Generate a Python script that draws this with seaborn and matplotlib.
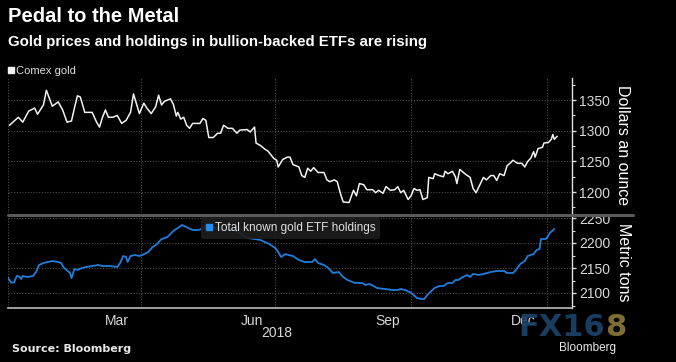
import pandas as pd
import matplotlib.pyplot as plt
import matplotlib.dates as mdates
from matplotlib.ticker import MultipleLocator
from matplotlib.lines import Line2D
import seaborn as sns

# Comex gold, dollars an ounce
gold_dates = [
    "2018-01-02", "2018-01-08", "2018-01-11", "2018-01-15", "2018-01-19", "2018-01-21",
    "2018-01-25", "2018-01-27", "2018-01-31", "2018-02-04", "2018-02-07", "2018-02-10",
    "2018-02-13", "2018-02-15", "2018-02-17", "2018-02-19", "2018-02-22", "2018-02-27",
    "2018-03-02", "2018-03-04", "2018-03-06", "2018-03-08", "2018-03-10", "2018-03-13",
    "2018-03-16", "2018-03-19", "2018-03-22", "2018-03-25", "2018-03-27", "2018-03-31",
    "2018-04-03", "2018-04-05", "2018-04-08", "2018-04-11", "2018-04-13", "2018-04-15",
    "2018-04-17", "2018-04-21", "2018-04-23", "2018-04-25", "2018-04-26", "2018-04-28",
    "2018-04-30", "2018-05-02", "2018-05-04", "2018-05-06", "2018-05-11", "2018-05-13",
    "2018-05-15", "2018-05-17", "2018-05-20", "2018-05-23", "2018-05-25", "2018-05-27",
    "2018-05-30", "2018-06-02", "2018-06-05", "2018-06-07", "2018-06-12", "2018-06-14",
    "2018-06-17", "2018-06-18", "2018-06-21", "2018-06-24", "2018-06-26", "2018-06-30",
    "2018-07-02", "2018-07-03", "2018-07-06", "2018-07-09", "2018-07-11", "2018-07-13",
    "2018-07-17", "2018-07-19", "2018-07-21", "2018-07-23", "2018-07-25", "2018-07-27",
    "2018-07-30", "2018-08-03", "2018-08-05", "2018-08-07", "2018-08-10", "2018-08-12",
    "2018-08-14", "2018-08-16", "2018-08-20", "2018-08-23", "2018-08-25", "2018-08-27",
    "2018-08-30", "2018-09-01", "2018-09-05", "2018-09-07", "2018-09-09", "2018-09-12",
    "2018-09-14", "2018-09-17", "2018-09-20", "2018-09-22", "2018-09-24", "2018-09-26",
    "2018-09-29", "2018-10-01", "2018-10-03", "2018-10-05", "2018-10-07", "2018-10-09",
    "2018-10-12", "2018-10-13", "2018-10-16", "2018-10-17", "2018-10-20", "2018-10-23",
    "2018-10-24", "2018-10-26", "2018-10-29", "2018-10-31", "2018-11-01", "2018-11-03",
    "2018-11-07", "2018-11-10", "2018-11-12", "2018-11-14", "2018-11-17", "2018-11-19",
    "2018-11-21", "2018-11-24", "2018-11-26", "2018-11-28", "2018-11-30", "2018-12-03",
    "2018-12-05", "2018-12-07", "2018-12-09", "2018-12-12", "2018-12-15", "2018-12-17",
    "2018-12-19", "2018-12-21", "2018-12-23", "2018-12-24", "2018-12-26", "2018-12-29",
    "2018-12-30", "2019-01-02", "2019-01-04", "2019-01-05", "2019-01-06", "2019-01-08",
]
gold_price = [
    1309, 1322, 1314, 1332, 1337, 1327,
    1342, 1366, 1340, 1347, 1334, 1314,
    1316, 1337, 1357, 1355, 1330, 1330,
    1314, 1306, 1322, 1334, 1322, 1322,
    1325, 1312, 1317, 1330, 1360, 1328,
    1345, 1337, 1328, 1339, 1358, 1342,
    1348, 1352, 1343, 1324, 1330, 1319,
    1322, 1309, 1304, 1312, 1312, 1320,
    1317, 1289, 1289, 1296, 1296, 1309,
    1304, 1304, 1296, 1301, 1302, 1298,
    1306, 1280, 1276, 1270, 1267, 1255,
    1252, 1241, 1253, 1257, 1257, 1245,
    1241, 1227, 1224, 1239, 1234, 1240,
    1232, 1232, 1220, 1217, 1220, 1217,
    1199, 1184, 1183, 1203, 1194, 1214,
    1212, 1204, 1204, 1199, 1203, 1198,
    1209, 1203, 1204, 1209, 1199, 1203,
    1188, 1194, 1206, 1203, 1204, 1188,
    1191, 1224, 1222, 1230, 1227, 1225,
    1234, 1230, 1234, 1225, 1214, 1237,
    1229, 1224, 1206, 1199, 1214, 1224,
    1220, 1227, 1227, 1219, 1230, 1227,
    1243, 1247, 1252, 1247, 1247, 1241,
    1250, 1255, 1266, 1257, 1271, 1273,
    1280, 1281, 1286, 1294, 1286, 1291,
]

# Total known gold ETF holdings, metric tons
etf_dates = [
    "2018-01-01", "2018-01-03", "2018-01-05", "2018-01-07", "2018-01-08", "2018-01-10",
    "2018-01-11", "2018-01-14", "2018-01-18", "2018-01-20", "2018-01-22", "2018-01-25",
    "2018-01-28", "2018-01-31", "2018-02-04", "2018-02-06", "2018-02-08", "2018-02-12",
    "2018-02-13", "2018-02-15", "2018-02-17", "2018-02-20", "2018-02-23", "2018-02-27",
    "2018-03-03", "2018-03-06", "2018-03-11", "2018-03-16", "2018-03-18", "2018-03-20",
    "2018-03-22", "2018-03-23", "2018-03-25", "2018-03-28", "2018-03-31", "2018-04-02",
    "2018-04-06", "2018-04-09", "2018-04-12", "2018-04-15", "2018-04-19", "2018-04-23",
    "2018-04-26", "2018-04-29", "2018-05-03", "2018-05-06", "2018-05-10", "2018-05-18",
    "2018-05-25", "2018-06-03", "2018-06-07", "2018-06-12", "2018-06-17", "2018-06-21",
    "2018-06-24", "2018-06-27", "2018-07-01", "2018-07-03", "2018-07-05", "2018-07-08",
    "2018-07-10", "2018-07-13", "2018-07-17", "2018-07-21", "2018-07-26", "2018-07-28",
    "2018-07-30", "2018-08-03", "2018-08-06", "2018-08-09", "2018-08-13", "2018-08-16",
    "2018-08-19", "2018-08-24", "2018-08-29", "2018-08-31", "2018-09-03", "2018-09-08",
    "2018-09-13", "2018-09-19", "2018-09-22", "2018-09-24", "2018-09-27", "2018-09-30",
    "2018-10-02", "2018-10-05", "2018-10-08", "2018-10-10", "2018-10-12", "2018-10-14",
    "2018-10-17", "2018-10-20", "2018-10-23", "2018-10-26", "2018-10-29", "2018-10-31",
    "2018-11-02", "2018-11-05", "2018-11-08", "2018-11-10", "2018-11-12", "2018-11-16",
    "2018-11-19", "2018-11-24", "2018-11-28", "2018-12-03", "2018-12-05", "2018-12-09",
    "2018-12-11", "2018-12-14", "2018-12-17", "2018-12-19", "2018-12-23", "2018-12-25",
    "2018-12-27", "2018-12-28", "2018-12-31", "2019-01-01", "2019-01-03", "2019-01-06",
]
etf_tons = [
    2131, 2121, 2121, 2134, 2134, 2128,
    2134, 2132, 2134, 2142, 2156, 2160,
    2162, 2164, 2162, 2160, 2150, 2140,
    2130, 2148, 2146, 2150, 2152, 2154,
    2156, 2154, 2154, 2152, 2160, 2174,
    2172, 2162, 2174, 2176, 2174, 2176,
    2182, 2192, 2198, 2208, 2212, 2224,
    2230, 2236, 2230, 2226, 2226, 2234,
    2226, 2226, 2220, 2210, 2208, 2206,
    2202, 2198, 2190, 2182, 2172, 2178,
    2176, 2174, 2166, 2162, 2162, 2168,
    2160, 2156, 2150, 2140, 2142, 2132,
    2126, 2120, 2120, 2116, 2118, 2110,
    2108, 2106, 2106, 2108, 2106, 2102,
    2098, 2090, 2088, 2088, 2096, 2102,
    2110, 2114, 2114, 2120, 2120, 2126,
    2126, 2132, 2136, 2132, 2138, 2136,
    2138, 2142, 2144, 2144, 2140, 2140,
    2146, 2158, 2164, 2174, 2178, 2186,
    2188, 2208, 2208, 2210, 2220, 2228,
]

quarter_starts = ["2018-01-01", "2018-04-01", "2018-07-01", "2018-10-01", "2019-01-01"]
month_labels = ["Mar", "Jun", "Sep", "Dec"]
month_label_dates = ["2018-03-16", "2018-06-15", "2018-09-15", "2018-12-16"]

gold_df = pd.DataFrame({"date": pd.to_datetime(gold_dates), "price": gold_price})
etf_df = pd.DataFrame({"date": pd.to_datetime(etf_dates), "tons": etf_tons})

sns.set_theme(style="dark", rc={
    "figure.facecolor": "black",
    "axes.facecolor": "black",
    "savefig.facecolor": "black",
    "text.color": "white",
    "axes.labelcolor": "white",
    "xtick.color": "#d8d8d8",
    "ytick.color": "#d8d8d8",
})
plt.rcParams["font.family"] = ["Liberation Sans", "DejaVu Sans"]

GRID = "#4d4d4d"
TICK = "#d8d8d8"
x_lo, x_hi = pd.Timestamp("2018-01-01"), pd.Timestamp("2019-01-18")

fig = plt.figure(figsize=(6.76, 3.62), dpi=100)
ax1 = fig.add_axes([8 / 676, 1 - 213 / 362, 564 / 676, 135 / 362])
ax2 = fig.add_axes([8 / 676, 1 - 308 / 362, 564 / 676, 92 / 362])

sns.lineplot(data=gold_df, x="date", y="price", color="#f2f2f2", lw=1.1, ax=ax1)
sns.lineplot(data=etf_df, x="date", y="tons", color="#1f7ddb", lw=1.3, ax=ax2)

for ax in (ax1, ax2):
    ax.set_xlim(x_lo, x_hi)
    ax.set_xlabel("")
    for s in ("top", "left", "bottom"):
        ax.spines[s].set_visible(False)
    ax.spines["right"].set_visible(True)
    ax.spines["right"].set_color("#e0e0e0")
    ax.spines["right"].set_linewidth(1)
    ax.yaxis.tick_right()
    ax.yaxis.set_label_position("right")
    ax.yaxis.set_major_locator(MultipleLocator(50))
    ax.yaxis.set_minor_locator(MultipleLocator(25))
    ax.tick_params(axis="y", which="major", length=3, width=1, color=TICK,
                   labelsize=10, pad=2, direction="out")
    ax.tick_params(axis="y", which="minor", length=2, width=0.8, color=TICK, direction="out")
    ax.grid(False)
    ax.grid(axis="y", which="major", color=GRID, ls=(0, (1, 1.5)), lw=0.8)
    for q in quarter_starts:
        ax.axvline(pd.Timestamp(q), color=GRID, ls=(0, (1, 1.5)), lw=0.8, zorder=0)

# top panel
ax1.set_ylim(1166, 1386)
ax1.set_xticks([])
ax1.set_ylabel("Dollars an ounce", rotation=270, fontsize=11.5, labelpad=4, va="bottom")

# bottom panel
ax2.set_ylim(2070, 2254)
ax2.spines["bottom"].set_visible(True)
ax2.spines["bottom"].set_color("#bdbdbd")
ax2.spines["bottom"].set_linewidth(1.2)
ax2.set_xticks(pd.to_datetime(month_label_dates))
ax2.set_xticklabels(month_labels)
ax2.xaxis.set_minor_locator(mdates.MonthLocator())
ax2.tick_params(axis="x", which="major", length=0, labelsize=10, pad=4, colors=TICK)
ax2.tick_params(axis="x", which="minor", length=3, width=0.8, color="#bdbdbd", direction="out")
ax2.set_ylabel("Metric tons", rotation=270, fontsize=11.5, labelpad=4, va="bottom")
ax2.text(pd.Timestamp("2018-07-02"), -0.27, "2018", transform=ax2.get_xaxis_transform(),
         ha="center", va="center", fontsize=10, color=TICK)

# legends
h1 = Line2D([], [], marker="s", ls="", color="#f2f2f2", markersize=4.5)
leg1 = ax1.legend([h1], ["Comex gold"], loc="lower left", bbox_to_anchor=(-0.005, 1.0),
                  frameon=False, fontsize=8, handlelength=0.6, handletextpad=0.2,
                  borderaxespad=0.1, borderpad=0.1)
for t in leg1.get_texts():
    t.set_color("#e0e0e0")

h2 = Line2D([], [], marker="s", ls="", color="#1f8ef0", markersize=5)
leg2 = ax2.legend([h2], ["Total known gold ETF holdings"], loc="upper left",
                  bbox_to_anchor=(0.34, 1.0), frameon=True, fontsize=8.5,
                  handlelength=0.6, handletextpad=0.2, borderpad=0.4, borderaxespad=0.1)
leg2.get_frame().set_facecolor("#1e1e1e")
leg2.get_frame().set_edgecolor("none")
leg2.get_frame().set_alpha(0.9)
for t in leg2.get_texts():
    t.set_color("#e0e0e0")

# separator bar between panels
fig.add_artist(Line2D([8 / 676, 633 / 676], [1 - 214.5 / 362] * 2, color="#5a5a5a", lw=2.2))

# titles
fig.text(8 / 676, 1 - 17 / 362, "Pedal to the Metal", fontsize=14.5, fontweight="bold",
         color="white", va="center", ha="left")
fig.text(8 / 676, 1 - 42 / 362, "Gold prices and holdings in bullion-backed ETFs are rising",
         fontsize=10.8, fontweight="bold", color="white", va="center", ha="left")

# footer
fig.text(12 / 676, 1 - 349 / 362, "Source: Bloomberg", fontsize=8, fontweight="bold",
         family="DejaVu Sans", color="#e8e8e8", va="center", ha="left")
fig.text(518 / 676, 1 - 328 / 362, "FX16", fontsize=22, fontweight="bold",
         family="DejaVu Sans", color="#1b4469", alpha=0.9, va="center", ha="left")
fig.text(605 / 676, 1 - 328 / 362, "8", fontsize=22, fontweight="bold",
         family="DejaVu Sans", color="#8c7a3a", alpha=0.9, va="center", ha="left")
fig.text(616 / 676, 1 - 348 / 362, "Bloomberg", fontsize=8.5,
         color="#e8e8e8", va="center", ha="right")

fig.savefig("out.png", dpi=100, facecolor="black")
